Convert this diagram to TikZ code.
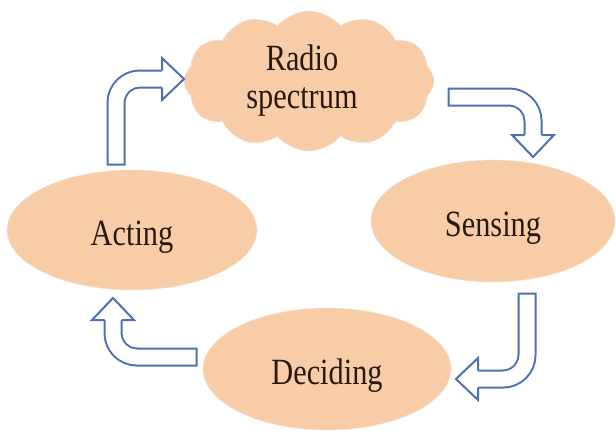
\documentclass[tikz,border=0pt]{standalone}
\usepackage{fontspec}
\setmainfont{Liberation Serif}
\newfontfamily\narrowserif[FakeStretch=0.82]{Liberation Serif}
\usetikzlibrary{shapes.symbols,shapes.geometric}
\definecolor{peach}{RGB}{249,204,168}
\definecolor{arrblue}{RGB}{74,114,180}
\definecolor{textc}{RGB}{40,26,18}
\definecolor{rimc}{RGB}{242,228,218}
\tikzset{
  blob/.style={fill=peach, draw=rimc, dashed, line width=0.8pt, inner sep=0pt,
    text=textc, font=\narrowserif\fontsize{37}{38}\selectfont, text height=30pt, text depth=0pt},
  lbl/.style={text=textc, font=\narrowserif\fontsize{37}{38}\selectfont, align=center, inner sep=0pt},
  shaft/.style={draw=arrblue, line width=2pt, double=white, double distance=15pt,
    line cap=rect, rounded corners=24pt},
  head/.style={fill=white, draw=arrblue, line width=2pt, line join=miter}
}
\begin{document}
\begin{tikzpicture}[x=1pt,y=-1pt]
\fill[white] (0,0) rectangle (616,434);
\useasboundingbox (0,0) rectangle (616,434);
% shapes
\node[blob, cloud, cloud puffs=12, cloud puff arc=100, aspect=1.8,
      minimum width=250pt, minimum height=140pt] (radio) at (309,81) {};
\node[lbl] (radiot) at (302,81) {Radio\\spectrum};
\node[blob, ellipse, minimum width=244pt, minimum height=122pt] (sensing) at (493,221) {Sensing};
\node[blob, ellipse, minimum width=250pt, minimum height=120pt] (acting) at (132,230) {Acting};
\node[blob, ellipse, minimum width=248pt, minimum height=122pt] (deciding) at (327,369) {Deciding};
% arrow anchor points
\coordinate (a1s) at (116,156);  \coordinate (a1e) at (162,79);
\coordinate (a2s) at (457,97);   \coordinate (a2e) at (533,135);
\coordinate (a3s) at (527,302);  \coordinate (a3e) at (478,379);
\coordinate (a4s) at (188,357);  \coordinate (a4e) at (113,320);
% arrow 1: acting -> radio spectrum
\draw[shaft] (a1s) |- (a1e);
\filldraw[head] ([yshift=8.5pt]a1e) -- ([yshift=21pt]a1e) -- ([xshift=22pt]a1e) -- ([yshift=-21pt]a1e) -- ([yshift=-8.5pt]a1e);
% arrow 2: radio spectrum -> sensing
\draw[shaft] (a2s) -| (a2e);
\filldraw[head] ([xshift=-8.5pt]a2e) -- ([xshift=-21pt]a2e) -- ([yshift=-22pt]a2e) -- ([xshift=21pt]a2e) -- ([xshift=8.5pt]a2e);
% arrow 3: sensing -> deciding
\draw[shaft] (a3s) |- (a3e);
\filldraw[head] ([yshift=8.5pt]a3e) -- ([yshift=21pt]a3e) -- ([xshift=-22pt]a3e) -- ([yshift=-21pt]a3e) -- ([yshift=-8.5pt]a3e);
% arrow 4: deciding -> acting
\draw[shaft] (a4s) -| (a4e);
\filldraw[head] ([xshift=-8.5pt]a4e) -- ([xshift=-21pt]a4e) -- ([yshift=22pt]a4e) -- ([xshift=21pt]a4e) -- ([xshift=8.5pt]a4e);
\end{tikzpicture}
\end{document}
